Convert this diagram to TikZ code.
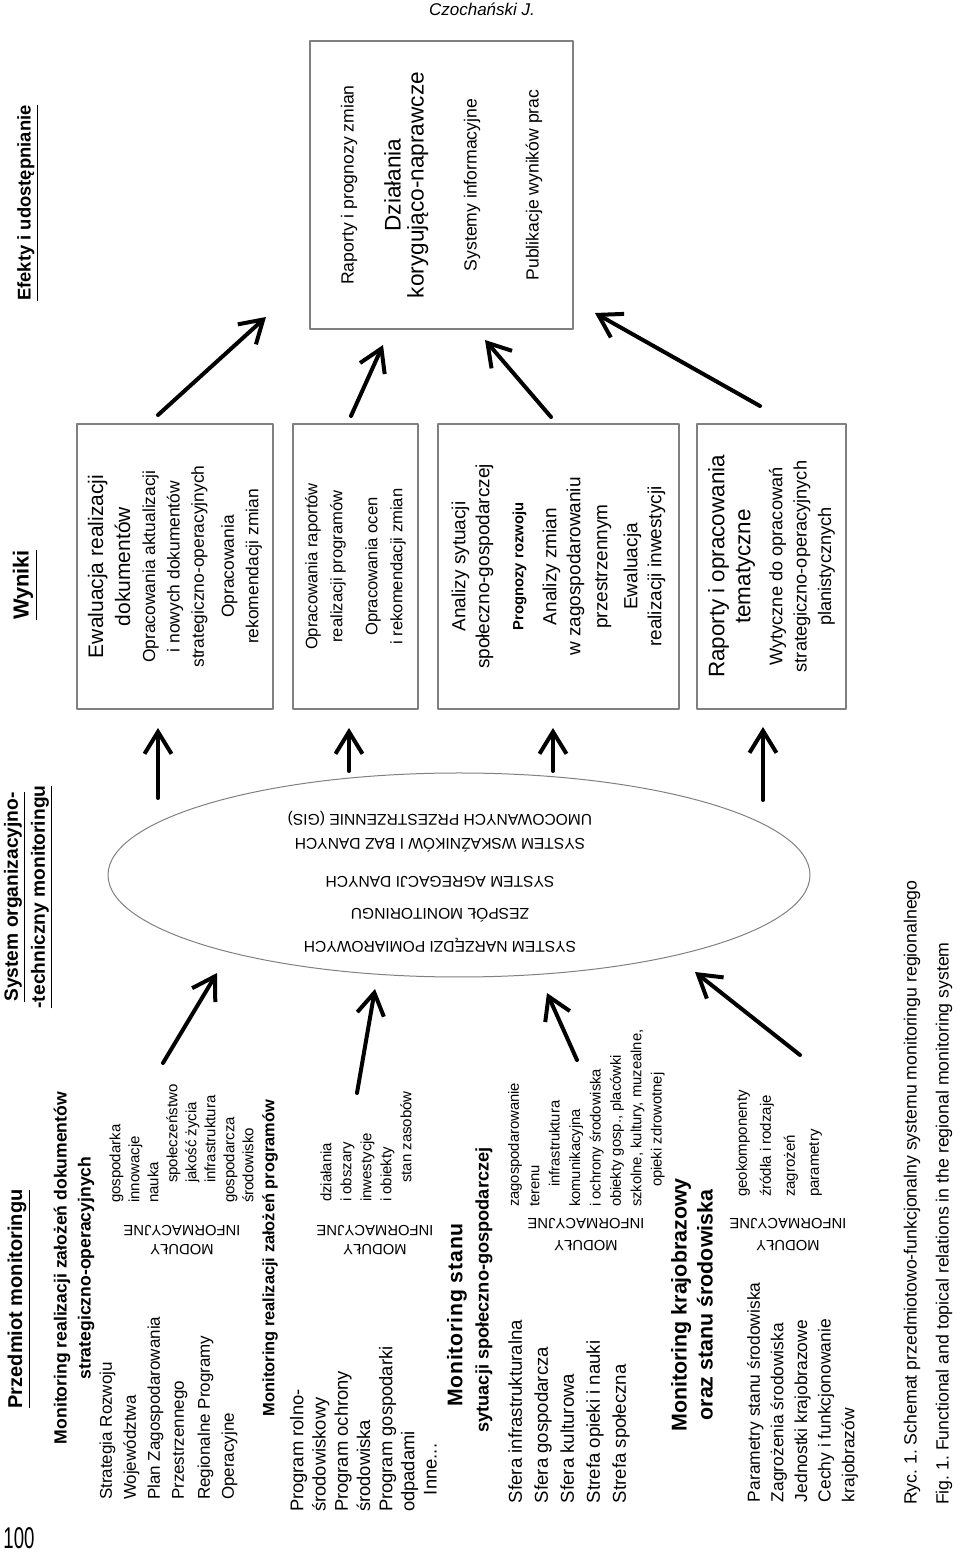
\documentclass[tikz,border=0pt]{standalone}
\usepackage{fontspec}
\setmainfont{Liberation Sans}
\newfontfamily\narrowfont[FakeStretch=0.62]{Liberation Sans}
\usetikzlibrary{arrows.meta,shapes.geometric}
\frenchspacing
\newcommand{\fsz}[2]{\fontsize{#1}{#2}\selectfont}
\newcommand{\bigt}[2][10.5]{{\fsz{#1}{12}#2}}

\begin{document}
\begin{tikzpicture}[line join=round, line cap=round, >={Straight Barb[length=11pt,width=13.5pt]}]
    \tikzset{every node/.style={inner sep=0pt, outer sep=0pt},
        head/.style={font=\bfseries\fsz{8.8}{12}, align=center},
        lst/.style={align=left, anchor=west},
        itm/.style={align=left, anchor=west},
        modl/.style={font=\fsz{7.4}{9.5}, align=center, rotate=90},
        box/.style={draw=gray, line width=0.6pt, align=center},
        bigarrow/.style={->, line width=2pt}}
    \begin{scope}[rotate=90, transform shape, x=0.5pt, y=0.5pt]
        \useasboundingbox (0,0) rectangle (1555,960);
        \node[font=\narrowfont\fsz{15}{15}, rotate=-90] (page) at (17,941) {100};
        \node[font=\itshape\fsz{8.5}{10}, rotate=-90] (author) at (1546,478) {Czochański J.};
        \node[font=\bfseries\fsz{10}{13}] (przedmiot) at (256,941) {\underline{Przedmiot monitoringu}};
        \node[head, font=\bfseries\fsz{9.6}{13.5}] (system) at (658,931.5) {\underline{System organizacyjno-}\\ \underline{-techniczny monitoringu}};
        \node[font=\bfseries\fsz{10.9}{13}] (wyniki) at (970,935) {\underline{Wyniki}};
        \node[font=\bfseries\fsz{9.2}{12}] (efekty) at (1352,932) {\underline{Efekty i udostępnianie}};

        \node[head] (mdok) at (287,886) {Monitoring realizacji założeń dokumentów\\ strategiczno-operacyjnych};
        \node[lst, font=\fsz{8.5}{12}] (ldok) at (55,791.5) {Strategia Rozwoju\\ Województwa\\ Plan Zagospodarowania\\ Przestrzennego\\[1pt] Regionalne Programy\\ Operacyjne};
        \node[modl] (mod1) at (315,778) {MODUŁY\\ INFORMACYJNE};
        \node[itm, font=\fsz{7.5}{9.5}] (idok) at (352,778.5) {gospodarka\\ innowacje\\ nauka\\ \hspace*{10pt}społeczeństwo\\ \hspace*{10pt}jakość życia\\ \hspace*{10pt}infrastruktura\\ gospodarcza\\ środowisko};

        \node[head, font=\bfseries\fsz{8.2}{12}] (mprog) at (297,690) {Monitoring realizacji założeń programów};
        \node[lst, font=\fsz{9.2}{11.1}] (lprog) at (43,596.5) {Program rolno-\\ środowiskowy\\ Program ochrony\\ środowiska\\ Program gospodarki\\ odpadami\\ \hspace*{8.5pt}Inne...};
        \node[modl] (mod2) at (315,585) {MODUŁY\\ INFORMACYJNE};
        \node[itm, font=\fsz{7.5}{10}] (iprog) at (353,594) {działania\\ i obszary\\ inwestycje\\ i obiekty\\ \hspace*{9.5pt}stan zasobów};

        \node[font=\bfseries\fsz{10.6}{12}\addfontfeature{LetterSpace=4}] (mstan) at (240,503) {Monitoring stanu};
        \node[font=\bfseries\fsz{9.1}{12}] (msyt) at (265,476) {sytuacji społeczno-gospodarczej};
        \node[lst, font=\fsz{9.3}{13}] (lsyt) at (52,391) {Sfera infrastrukturalna\\ Sfera gospodarcza\\ Sfera kulturowa\\ Strefa opieki i nauki\\ Strefa społeczna};
        \node[modl, font=\fsz{7.4}{11}] (mod3) at (320,374) {MODUŁY\\ INFORMACYJNE};
        \node[itm, font=\fsz{7.4}{10.2}] (isyt) at (348,373.5) {zagospodarowanie\\ terenu\\ \hspace*{10pt}infrastruktura\\ komunikacyjna\\ i ochrony środowiska\\ obiekty gosp., placówki\\ szkolne, kultury, muzealne,\\ \hspace*{10pt}opieki zdrowotnej};

        \node[head, font=\bfseries\fsz{10.7}{13}] (mkraj) at (250,268) {Monitoring krajobrazowy\\ oraz stanu środowiska};
        \node[lst, font=\fsz{8.7}{11.8}] (lkraj) at (53,157.5) {Parametry stanu środowiska\\ Zagrożenia środowiska\\ Jednostki krajobrazowe\\ Cechy i funkcjonowanie\\ krajobrazów};
        \node[modl, font=\fsz{7.4}{11}] (mod4) at (320,172) {MODUŁY\\ INFORMACYJNE};
        \node[itm, font=\fsz{7.5}{12}] (ikraj) at (358,181) {geokomponenty\\ źródła i rodzaje\\ zagrożeń\\ parametry};

        \node[draw=gray, line width=0.5pt, ellipse, minimum width=102pt, minimum height=351pt] (ell) at (680,501) {};
        \node[font=\fsz{7.8}{12}, align=center, rotate=90] (elltxt) at (673,520) {SYSTEM NARZĘDZI POMIAROWYCH\\[4.5pt] ZESPÓŁ MONITORINGU\\[4pt] SYSTEM AGREGACJI DANYCH\\[7pt] SYSTEM WSKAŹNIKÓW I BAZ DANYCH\\ UMOCOWANYCH PRZESTRZENNIE (GIS)};

        \node[box, font=\fsz{8.7}{12.2}, minimum width=142.5pt, minimum height=98pt] (wyn1) at (988.5,785) {\bigt{Ewaluacja realizacji}\\[1.3pt] \bigt{dokumentów}\\[0.3pt] Opracowania aktualizacji\\ i nowych dokumentów\\ strategiczno-operacyjnych\\[2.8pt] Opracowania\\ rekomendacji zmian};
        \node[box, font=\fsz{8.3}{12.5}, minimum width=142.5pt, minimum height=62.5pt] (wyn2) at (988.5,604.5) {Opracowania raportów\\ realizacji programów\\[5pt] Opracowania ocen\\ i rekomendacji zmian};
        \node[box, font=\fsz{9.5}{12}, minimum width=142.5pt, minimum height=120.5pt] (wyn3) at (988.5,401.5) {Analizy sytuacji\\ społeczno-gospodarczej\\[5pt] \textbf{\fsz{7.4}{9}Prognozy rozwoju}\\[4.5pt] Analizy zmian\\ w zagospodarowaniu\\[1.5pt] przestrzennym\\[3pt] Ewaluacja\\ realizacji inwestycji};
        \node[box, font=\fsz{9.1}{12.2}, minimum width=142.5pt, minimum height=74.5pt] (wyn4) at (988.5,188.5) {\bigt[11.2]{Raporty i opracowania}\\[0.8pt] \bigt[11.2]{tematyczne}\\[3.8pt] Wytyczne do opracowań\\ strategiczno-operacyjnych\\ planistycznych};

        \node[box, font=\fsz{8.8}{11.5}, minimum width=144pt, minimum height=131.5pt] (efe) at (1370,518.5) {Raporty i prognozy zmian\\[12pt] \bigt[11.3]{Działania}\\ \bigt[11.3]{korygująco-naprawcze}\\[15pt] Systemy informacyjne\\[19.5pt] Publikacje wyników prac};

        \node[lst, font=\fsz{8.85}{16}] (caption) at (50,32) {Ryc. 1. Schemat przedmiotowo-funkcjonalny systemu monitoringu regionalnego\\ Fig. 1. Functional and topical relations in the regional monitoring system};

        \foreach \n/\x/\y in {a1-t/492/797, a1-h/582/743, a2-t/462/603, a2-h/566/585, a3-t/495/383, a3-h/562/413, a4-t/500/160, a4-h/583/265,
            b1-t/757/802, b1-h/827/802, b2-t/784/611, b2-h/827/611, b3-t/784/407, b3-h/827/407, b4-t/755/197, b4-h/828/197,
            c1-t/1140/802, c1-h/1238/694, c2-t/1139/609, c2-h/1210/577, c3-t/1138/409, c3-h/1215/475, c4-t/1149/200, c4-h/1242/365}
        \coordinate (\n) at (\x,\y);
        \foreach \s in {a1,a2,a3,a4,b1,b2,b3,b4,c1,c2,c3,c4}
        \draw[bigarrow] (\s-t) -- (\s-h);
    \end{scope}
\end{tikzpicture}
\end{document}
